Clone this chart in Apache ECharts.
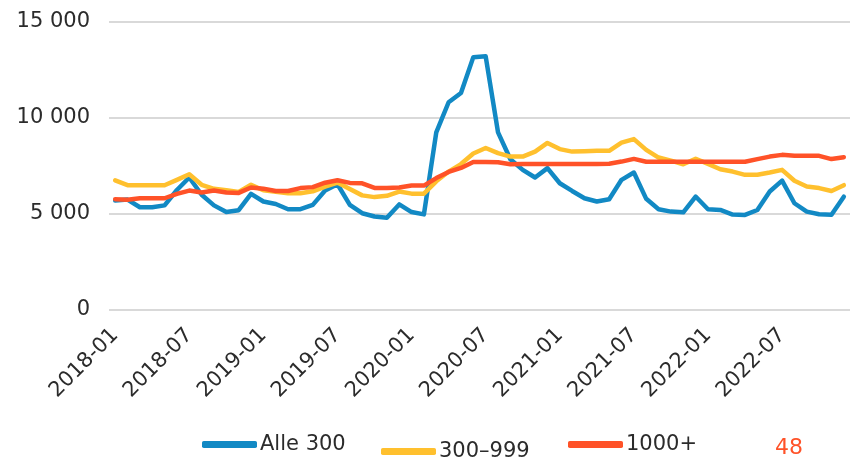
<!DOCTYPE html>
<html>
<head>
<meta charset="utf-8">
<script src="https://cdn.jsdelivr.net/npm/echarts@6/dist/echarts.min.js"></script>
<style>
html,body{margin:0;padding:0;background:#fff;}
#chart{width:850px;height:460px;}
</style>
</head>
<body>
<div id="chart"></div>
<script>
var months = [
  "2018-01","2018-02","2018-03","2018-04","2018-05","2018-06","2018-07","2018-08","2018-09","2018-10","2018-11","2018-12",
  "2019-01","2019-02","2019-03","2019-04","2019-05","2019-06","2019-07","2019-08","2019-09","2019-10","2019-11","2019-12",
  "2020-01","2020-02","2020-03","2020-04","2020-05","2020-06","2020-07","2020-08","2020-09","2020-10","2020-11","2020-12",
  "2021-01","2021-02","2021-03","2021-04","2021-05","2021-06","2021-07","2021-08","2021-09","2021-10","2021-11","2021-12",
  "2022-01","2022-02","2022-03","2022-04","2022-05","2022-06","2022-07","2022-08","2022-09","2022-10","2022-11","2022-12"
];
var seriesNames = ["Alle 300", "300\u2013999", "1000+"];
var alle300 = [
  5700,5750,5350,5350,5450,6250,6900,6000,5450,5100,5200,6050,
  5650,5520,5250,5250,5475,6220,6550,5475,5040,4870,4800,5500,
  5100,4980,9250,10820,11300,13170,13210,9250,7850,7300,6900,7390,
  6600,6200,5820,5650,5770,6780,7160,5790,5250,5125,5090,5910,
  5250,5210,4970,4950,5210,6170,6740,5560,5125,4990,4960,5900
];
var s300_999 = [
  6750,6500,6500,6500,6500,6780,7070,6520,6310,6240,6150,6520,
  6240,6160,6080,6080,6180,6430,6640,6300,5970,5880,5950,6170,
  6060,6060,6700,7210,7600,8150,8440,8170,7990,7990,8250,8700,
  8380,8250,8270,8290,8290,8720,8900,8340,7940,7780,7590,7880,
  7610,7330,7210,7040,7040,7160,7300,6730,6430,6350,6200,6500
];
var s1000 = [
  5770,5740,5820,5820,5820,6050,6220,6120,6220,6120,6100,6380,
  6320,6200,6200,6350,6400,6630,6760,6620,6600,6360,6350,6380,
  6480,6480,6870,7190,7400,7710,7710,7700,7590,7600,7600,7600,
  7600,7600,7600,7600,7620,7730,7870,7720,7720,7720,7720,7720,
  7720,7720,7720,7720,7860,7990,8080,8030,8030,8030,7860,7960
];
var yTicks = [0, 5000, 10000, 15000];
var pageNumber = "48";

var colors = ["#1289C4", "#FFC02E", "#FF5228"];
var FONT = "DejaVu Sans";
var chart = echarts.init(document.getElementById('chart'), null, {renderer: 'canvas'});

function legendFor(i, left, top) {
  return {
    data: [seriesNames[i]],
    left: left, top: top,
    icon: 'roundRect',
    itemWidth: 55, itemHeight: 7,
    itemGap: 4,
    padding: 0,
    textStyle: {fontFamily: FONT, fontSize: 21, color: '#2b2b2b', padding: [0,0,0,-2]}
  };
}

chart.setOption({
  animation: false,
  color: colors,
  grid: {left: 109, top: 22, height: 288, width: 750, containLabel: false},
  legend: [
    legendFor(0, 202, 434),
    legendFor(1, 381, 441),
    legendFor(2, 568, 434)
  ],
  graphic: [{
    type: 'text', left: 775, top: 437,
    style: {text: pageNumber, fill: '#FF5228', fontFamily: FONT, fontSize: 22}
  }],
  xAxis: {
    type: 'category',
    data: months,
    boundaryGap: true,
    axisLine: {show: false},
    axisTick: {show: false},
    axisLabel: {
      interval: 5, rotate: 45, margin: 22,
      fontFamily: FONT, fontSize: 21, color: '#2b2b2b'
    },
    splitLine: {show: false}
  },
  yAxis: {
    type: 'value',
    min: yTicks[0], max: yTicks[yTicks.length - 1], interval: 5000,
    axisLine: {show: false},
    axisTick: {show: false},
    axisLabel: {
      margin: 19, fontFamily: FONT, fontSize: 21, color: '#2b2b2b',
      formatter: function (v) {
        return String(v).replace(/\B(?=(\d{3})+(?!\d))/g, ' ');
      }
    },
    splitLine: {lineStyle: {color: '#d9d9d9', width: 2}}
  },
  series: [
    {name: seriesNames[0], type: 'line', data: alle300, showSymbol: false, symbol: 'none',
     lineStyle: {width: 4.5, color: colors[0], cap: 'round', join: 'round'}},
    {name: seriesNames[1], type: 'line', data: s300_999, showSymbol: false, symbol: 'none',
     lineStyle: {width: 4.5, color: colors[1], cap: 'round', join: 'round'}},
    {name: seriesNames[2], type: 'line', data: s1000, showSymbol: false, symbol: 'none',
     lineStyle: {width: 4.5, color: colors[2], cap: 'round', join: 'round'}}
  ]
});
</script>
</body>
</html>
